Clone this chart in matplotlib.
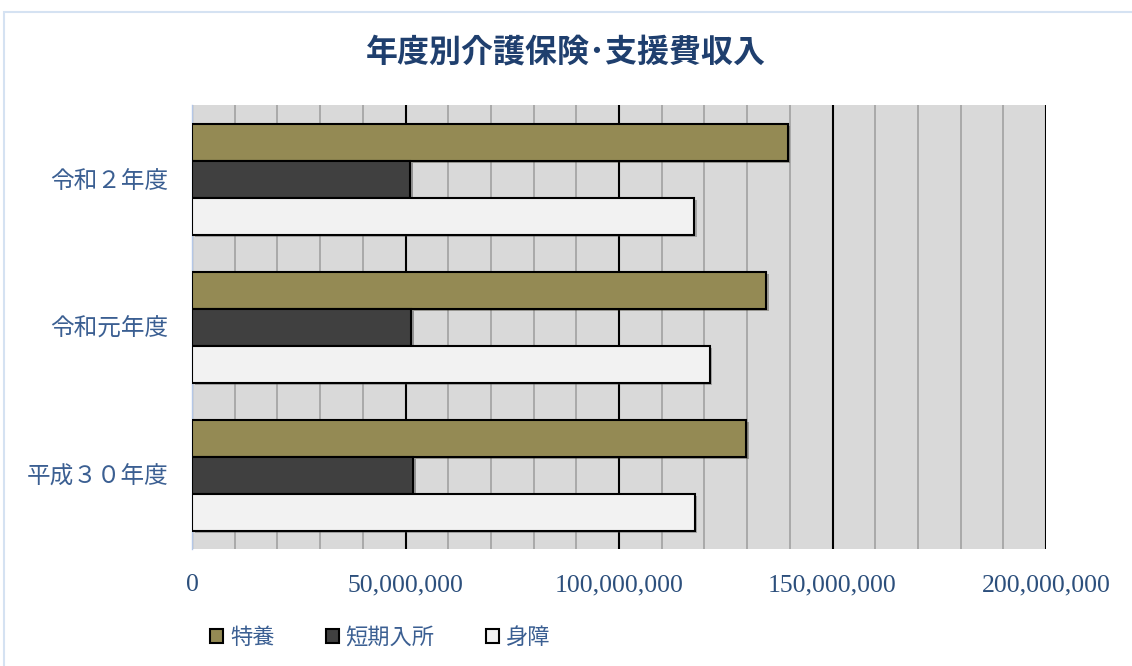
import matplotlib
matplotlib.use("Agg")
import matplotlib.pyplot as plt
import matplotlib.patheffects as pe
from matplotlib.patches import Rectangle
from matplotlib.ticker import MultipleLocator, FuncFormatter
import numpy as np

plt.rcParams['font.family'] = ['Noto Sans CJK JP', 'DejaVu Sans']

# 年度 (下から上の順)
years = ['平成３０年度', '令和元年度', '令和２年度']
series_names = ['特養', '短期入所', '身障']
tokuyo = [129700000, 134500000, 139500000]
tanki = [51800000, 51400000, 51100000]
shinsho = [117700000, 121200000, 117500000]
colors = ['#948a54', '#404040', '#f2f2f2']

fig = plt.figure(figsize=(11.32, 6.66), dpi=100)
ax = fig.add_axes([192 / 1132, 117 / 666, 854 / 1132, 444 / 666])
ax.set_facecolor('#d9d9d9')

# 外枠
fig.patches.append(Rectangle((4 / 1132, -0.1), 1.2, 1 - 12 / 666 + 0.1,
                             transform=fig.transFigure, fill=False,
                             edgecolor='#d5e2f2', lw=1.5, zorder=0))

y = np.arange(len(years))
h = 0.25
shadow = [pe.SimplePatchShadow(offset=(2, -2), alpha=0.35), pe.Normal()]
bars = []
for vals, off, c, name in zip([tokuyo, tanki, shinsho], [h, 0, -h], colors, series_names):
    b = ax.barh(y + off, vals, height=h, color=c, edgecolor='black',
                linewidth=1.5, label=name, zorder=3)
    for p in b:
        p.set_path_effects(shadow)
    bars.append(b)

ax.set_xlim(0, 200000000)
ax.set_ylim(-0.5, 2.5)
ax.xaxis.set_major_locator(MultipleLocator(50000000))
ax.xaxis.set_minor_locator(MultipleLocator(10000000))
ax.grid(which='minor', axis='x', color='#a6a6a6', lw=1.3, zorder=1)
ax.grid(which='major', axis='x', color='black', lw=1.5, zorder=2)
ax.xaxis.set_major_formatter(FuncFormatter(lambda v, p: f'{int(v):,}'))
ax.tick_params(axis='x', which='both', length=0, pad=18)
ax.tick_params(axis='y', length=0, pad=17)
for lbl in ax.get_xticklabels():
    lbl.set_family(['Liberation Serif', 'DejaVu Serif'])
    lbl.set_fontsize(18.5)
    lbl.set_color('#2c4f7c')
ax.set_yticks(y)
ax.set_yticklabels(years, fontsize=17, color='#3b5f92')

for s in ['top', 'right', 'bottom']:
    ax.spines[s].set_visible(False)
ax.spines['left'].set_color('#b4c7e7')
ax.spines['left'].set_linewidth(1)

fig.text(0.5, 1 - 52 / 666, '年度別介護保険･支援費収入', ha='center', va='center',
         fontsize=23, fontweight='bold', color='#1f3f6e')

leg = fig.legend(handles=bars, labels=series_names, loc='center left',
                 bbox_to_anchor=(190 / 1132, 1 - 637 / 666), ncol=3, frameon=False,
                 fontsize=16, handlelength=0.6, handleheight=0.6, handletextpad=0.3,
                 columnspacing=2.3)
for t in leg.get_texts():
    t.set_color('#3b5f92')
for hnd in leg.legend_handles:
    hnd.set_path_effects([])

fig.savefig('out.png', dpi=100)
